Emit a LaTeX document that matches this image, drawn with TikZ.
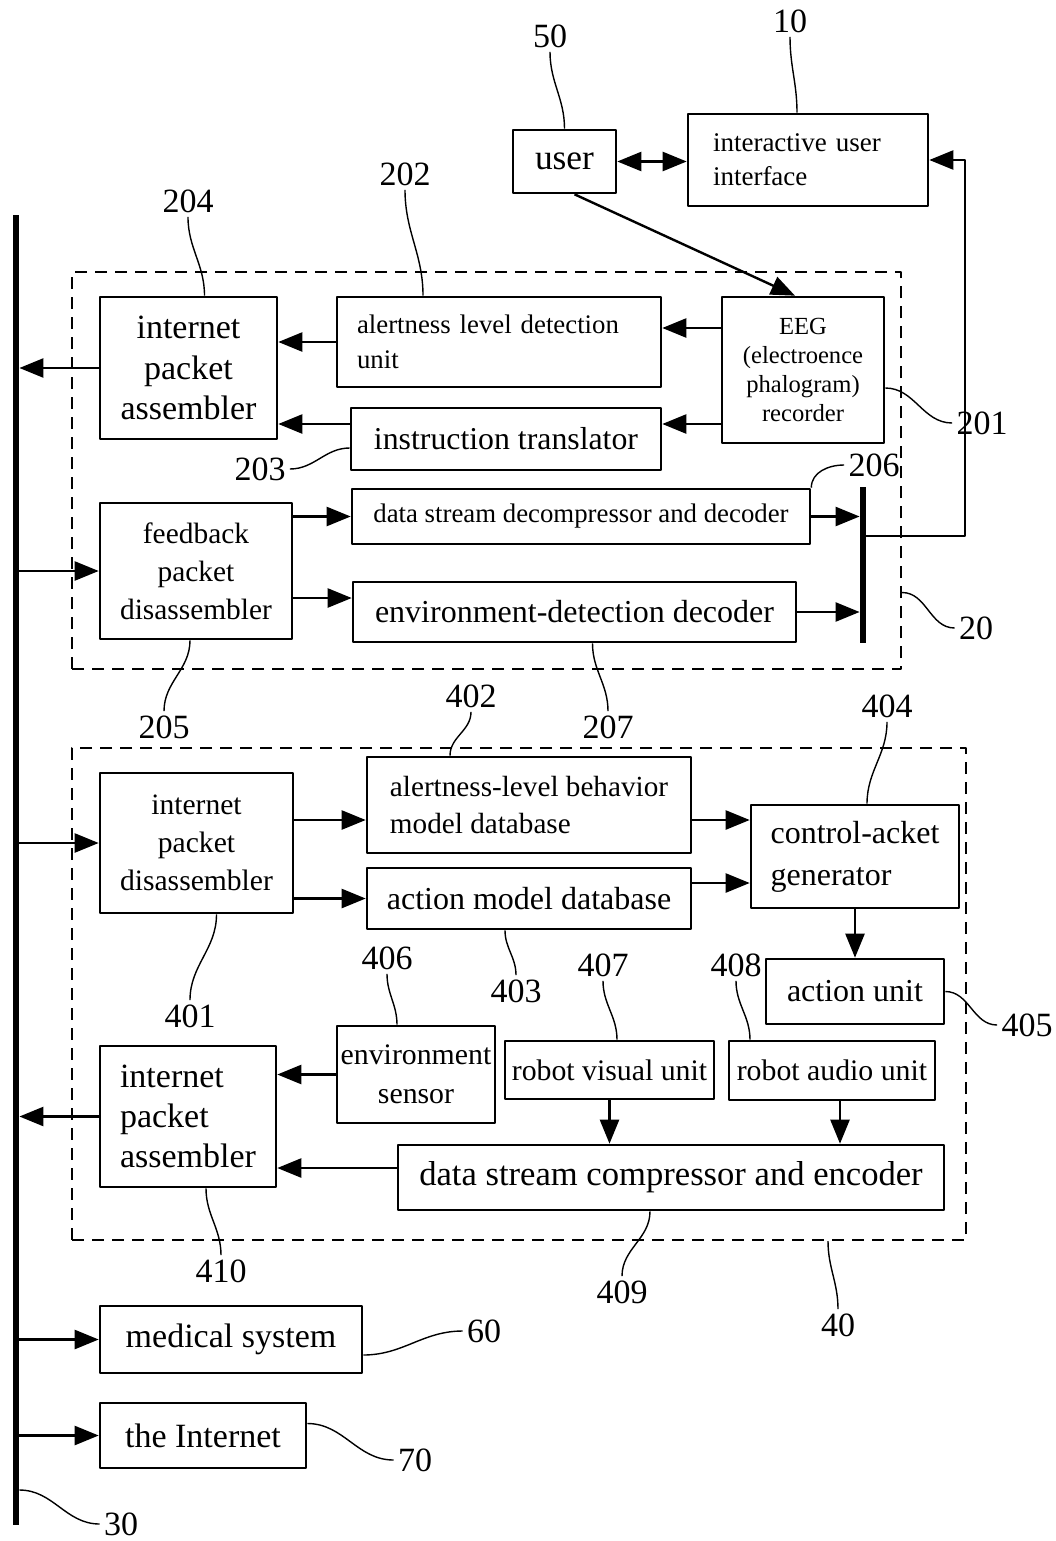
\documentclass[tikz,border=0pt]{standalone}
\usepackage{fontspec}
\setmainfont{Liberation Serif}
\usetikzlibrary{arrows.meta}
\newcommand{\fsz}[2]{\fontsize{#1}{#2}\selectfont}
\begin{document}
\begin{tikzpicture}[>={Triangle[length=12pt,width=9.5pt]},line join=round,x=0.5pt,y=-0.5pt,
    box/.style={draw,line width=1.3pt,inner sep=0pt,align=center},
    arr/.style={line width=1.2pt,->},
    lead/.style={line width=0.7pt},
    grp/.style={draw,line width=1pt,dash pattern=on 6pt off 4pt,inner sep=0pt},
    num/.style={inner sep=2pt,font=\fsz{17}{20}}]
\useasboundingbox (0,0) rectangle (1055,1541);
% groups and bus
\node[grp,minimum width=414.5pt,minimum height=198.5pt] (sys20) at (486.5,470.5) {};
\node[grp,minimum width=447pt,minimum height=246pt] (sys40) at (519,994) {};
\node[fill,inner sep=0pt,minimum width=3pt,minimum height=655pt] (bus) at (16,870) {};
\node[fill,inner sep=0pt,minimum width=3pt,minimum height=78pt] (bar) at (863,565) {};
% top
\node[box,minimum width=51.5pt,minimum height=31.5pt,font=\fsz{17.7}{20}] (user) at (564.5,161.5) {user};
\node[box,minimum width=120pt,minimum height=46pt,text width=95pt,inner xsep=12.5pt,align=left,font=\fsz{13.5}{17}] (ui) at (808,160) {interactive user\\interface};
% block 20
\node[box,minimum width=88.5pt,minimum height=71pt,font=\fsz{17}{20.25}] (b204) at (188.5,368) {internet\\packet\\assembler};
\node[box,minimum width=162pt,minimum height=45pt,text width=142pt,inner xsep=10pt,align=left,font=\fsz{13.4}{17.5}] (b202) at (499,342) {alertness level detection\\unit};
\node[box,minimum width=81pt,minimum height=73pt,font=\fsz{12.3}{14.5}] (b201) at (803,370) {EEG\\(electroence\\phalogram)\\recorder};
\node[box,minimum width=155pt,minimum height=31pt,font=\fsz{15.9}{18}] (b203) at (506,439) {instruction translator};
\node[box,minimum width=229pt,minimum height=27.5pt,font=\fsz{13.4}{16}] (b206) at (581,516.5) {data stream decompressor and decoder};
\node[box,minimum width=221.5pt,minimum height=30pt,font=\fsz{16}{18}] (b207) at (574.5,612) {environment-detection decoder};
\node[box,minimum width=96pt,minimum height=68pt,font=\fsz{14.7}{19}] (b205) at (196,571) {feedback\\packet\\disassembler};
% block 40
\node[box,minimum width=96.5pt,minimum height=70pt,font=\fsz{14.8}{19}] (b401) at (196.5,843) {internet\\packet\\disassembler};
\node[box,minimum width=162pt,minimum height=48pt,align=left,font=\fsz{14.6}{18.5}] (b402) at (529,805) {alertness-level behavior\\model database};
\node[box,minimum width=162pt,minimum height=30.5pt,font=\fsz{16}{18}] (b403) at (529,898.5) {action model database};
\node[box,minimum width=104pt,minimum height=51.5pt,align=left,font=\fsz{16}{21}] (b404) at (855,856.5) {control-acket\\generator};
\node[box,minimum width=89pt,minimum height=32.5pt,font=\fsz{16}{18}] (b405) at (855,991.5) {action unit};
\node[box,minimum width=79pt,minimum height=48.5pt,font=\fsz{14.9}{19.5}] (b406) at (416,1074.5) {environment\\sensor};
\node[box,minimum width=104.5pt,minimum height=29pt,font=\fsz{14.9}{17}] (b407) at (609.5,1070) {robot visual unit};
\node[box,minimum width=103pt,minimum height=29.5pt,font=\fsz{14.9}{17}] (b408) at (832,1070.5) {robot audio unit};
\node[box,minimum width=88pt,minimum height=70.5pt,align=left,font=\fsz{17}{20}] (b410) at (188,1116.5) {internet\\packet\\assembler};
\node[box,minimum width=273pt,minimum height=32.5pt,font=\fsz{17.3}{20}] (b409) at (671,1177.5) {data stream compressor and encoder};
% bottom
\node[box,minimum width=131pt,minimum height=33.5pt,font=\fsz{17}{20}] (b60) at (231,1339.5) {medical system};
\node[box,minimum width=103pt,minimum height=32.5pt,font=\fsz{17}{20}] (b70) at (203,1435.5) {the Internet};
% arrows
\draw[arr,<->] (user.east) -- (user.east -| ui.west);
\draw[arr] ([xshift=5pt]user.south) -- ([xshift=-4pt]b201.north);
\draw[arr] ([yshift=21pt]b201.west) -- ([yshift=21pt]b201.west -| b202.east);
\draw[arr] ([yshift=-27pt]b201.west) -- ([yshift=-27pt]b201.west -| b203.east);
\draw[arr] (b202.west) -- (b202.west -| b204.east);
\draw[arr] ([yshift=7.5pt]b203.west) -- ([yshift=7.5pt]b203.west -| b204.east);
\draw[arr] (b204.west) -- (b204.west -| bus.east);
\draw[arr] (b205.west -| bus.east) -- (b205.west);
\draw[arr] (b206.west -| b205.east) -- (b206.west);
\draw[arr] ([yshift=7pt]b207.west -| b205.east) -- ([yshift=7pt]b207.west);
\draw[arr] (b206.east) -- (b206.east -| bar.west);
\draw[arr] (b207.east) -- (b207.east -| bar.west);
\coordinate (fb) at (965,536);
\draw[arr] (fb -| bar.east) -- (fb) |- (ui.east);
\draw[arr] (b401.west -| bus.east) -- (b401.west);
\draw[arr] ([yshift=-7.5pt]b402.west -| b401.east) -- ([yshift=-7.5pt]b402.west);
\draw[arr] (b403.west -| b401.east) -- (b403.west);
\draw[arr] ([yshift=-7.5pt]b402.east) -- ([yshift=-7.5pt]b402.east -| b404.west);
\draw[arr] ([yshift=7.75pt]b403.east) -- ([yshift=7.75pt]b403.east -| b404.west);
\draw[arr] (b404.south) -- (b405.north);
\draw[arr] (b406.west) -- (b406.west -| b410.east);
\draw[arr] ([yshift=4.75pt]b409.west) -- ([yshift=4.75pt]b409.west -| b410.east);
\draw[arr] (b407.south) -- (b407.south |- b409.north);
\draw[arr] ([xshift=4pt]b408.south) -- ([xshift=4pt]b408.south |- b409.north);
\draw[arr] (b410.west) -- (b410.west -| bus.east);
\draw[arr] (b60.west -| bus.east) -- (b60.west);
\draw[arr] (b70.west -| bus.east) -- (b70.west);
% reference numerals
\node[num] (n50) at (550,36) {50};
\node[num] (n10) at (790,21) {10};
\node[num] (n202) at (405,174) {202};
\node[num] (n204) at (188,201) {204};
\node[num] (n201) at (982,423) {201};
\node[num] (n203) at (260,469) {203};
\node[num] (n206) at (874,465) {206};
\node[num] (n20) at (976,628) {20};
\node[num] (n205) at (164,727) {205};
\node[num] (n207) at (608,727) {207};
\node[num] (n402) at (471,696) {402};
\node[num] (n404) at (887,706) {404};
\node[num] (n406) at (387,958) {406};
\node[num] (n403) at (516,991) {403};
\node[num] (n401) at (190,1016) {401};
\node[num] (n407) at (603,965) {407};
\node[num] (n408) at (736,965) {408};
\node[num] (n405) at (1027,1025) {405};
\node[num] (n410) at (221,1271) {410};
\node[num] (n409) at (622,1292) {409};
\node[num] (n40) at (838,1325) {40};
\node[num] (n60) at (484,1331) {60};
\node[num] (n70) at (415,1460) {70};
\node[num] (n30) at (121,1524) {30};
% leaders
\draw[lead] (n50.south) to[out=-90,in=90] (user.north);
\draw[lead] (n10.south) to[out=-90,in=90] ([xshift=-5.5pt]ui.north);
\draw[lead] (n202.south) to[out=-90,in=90] ([xshift=-38pt]b202.north);
\draw[lead] (n204.south) to[out=-90,in=90] ([xshift=8pt]b204.north);
\draw[lead] ([yshift=-9pt]b201.east) to[out=0,in=180] (n201.west);
\draw[lead] (n203.east) to[out=0,in=180] ([yshift=-4.5pt]b203.west);
\draw[lead] (b206.north east) to[out=90,in=180] (n206.west);
\draw[lead] ([yshift=-61pt]sys20.east) to[out=0,in=180] (n20.west);
\draw[lead] ([xshift=-3pt]b205.south) to[out=-90,in=90] (n205.north);
\draw[lead] ([xshift=9pt]b207.south) to[out=-90,in=90] (n207.north);
\draw[lead] (n402.south) to[out=-90,in=90] ([xshift=-39.5pt]b402.north);
\draw[lead] (n404.south) to[out=-90,in=90] ([xshift=6pt]b404.north);
\draw[lead] ([xshift=10pt]b401.south) to[out=-90,in=90] (n401.north);
\draw[lead] ([xshift=-12pt]b403.south) to[out=-90,in=90] (n403.north);
\draw[lead] (n406.south) to[out=-90,in=90] ([xshift=-9.5pt]b406.north);
\draw[lead] (n407.south) to[out=-90,in=90] ([xshift=3.75pt]b407.north);
\draw[lead] (n408.south) to[out=-90,in=90] ([xshift=-41pt]b408.north);
\draw[lead] (b405.east) to[out=0,in=180] (n405.west);
\draw[lead] ([xshift=9pt]b410.south) to[out=-90,in=90] (n410.north);
\draw[lead] ([xshift=-10.5pt]b409.south) to[out=-90,in=90] (n409.north);
\draw[lead] ([xshift=154.5pt]sys40.south) to[out=-90,in=90] (n40.north);
\draw[lead] ([yshift=-7.75pt]b60.east) to[out=0,in=180] (n60.west);
\draw[lead] ([yshift=6pt]b70.east) to[out=0,in=180] (n70.west);
\draw[lead] ([yshift=-310pt]bus.east) to[out=0,in=180] (n30.west);
\end{tikzpicture}
\end{document}
